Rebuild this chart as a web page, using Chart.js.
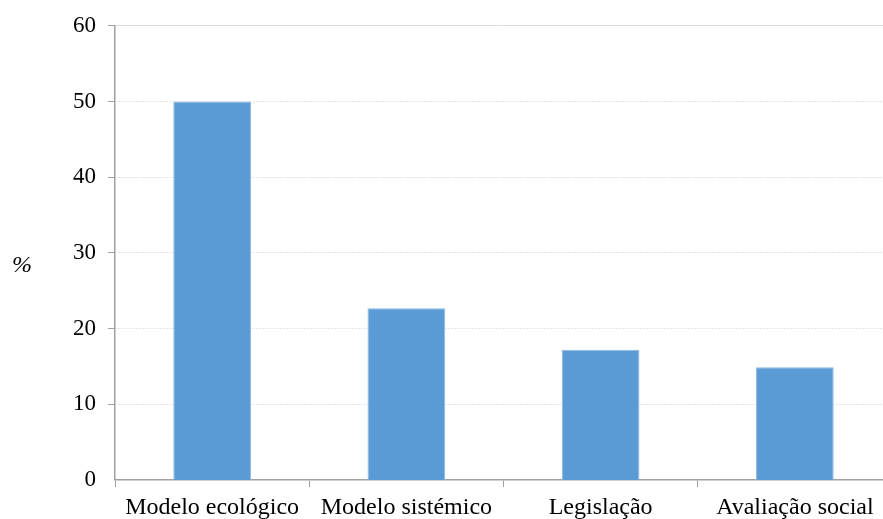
<!DOCTYPE html>
<html>
<head>
<meta charset="utf-8">
<script src="https://cdn.jsdelivr.net/npm/chart.js@4/dist/chart.umd.min.js"></script>
<style>
  html, body { margin: 0; padding: 0; background: #fff; overflow: hidden; }
  #wrap { width: 892px; height: 519px; position: relative; }
</style>
</head>
<body>
<div id="wrap"><canvas id="c"></canvas></div>
<script>
// Categories and their shares (%)
const categories = ['Modelo ecológico', 'Modelo sistémico', 'Legislação', 'Avaliação social'];
const percentages = [50, 22.7, 17.2, 14.9];
const yTicks = [0, 10, 20, 30, 40, 50, 60];

const serif = '"Liberation Serif", "Times New Roman", serif';

// Draws the italic "%" unit beside the value axis
const unitLabel = {
  id: 'unitLabel',
  afterDraw(chart) {
    const { ctx, chartArea } = chart;
    ctx.save();
    ctx.font = 'italic 24px ' + serif;
    ctx.fillStyle = '#000';
    ctx.textAlign = 'center';
    ctx.textBaseline = 'middle';
    ctx.fillText('%', 22, (chartArea.top + chartArea.bottom) / 2 + 13);
    ctx.restore();
  }
};

new Chart(document.getElementById('c'), {
  type: 'bar',
  data: {
    labels: categories,
    datasets: [{
      data: percentages,
      backgroundColor: '#5B9BD5',
      borderColor: '#8DB9E4',
      borderWidth: 1,
      categoryPercentage: 1,
      barPercentage: 0.4
    }]
  },
  options: {
    responsive: true,
    maintainAspectRatio: false,
    animation: false,
    layout: { padding: { top: 13, right: 0, bottom: 0, left: 0 } },
    plugins: { legend: { display: false }, tooltip: { enabled: false } },
    scales: {
      x: {
        offset: true,
        grid: {
          display: true,
          drawOnChartArea: false,
          drawTicks: true,
          tickLength: 7,
          tickColor: '#a0a0a0',
          offset: true
        },
        border: { color: '#a0a0a0', width: 1.5 },
        ticks: {
          color: '#000',
          font: { family: serif, size: 24 },
          padding: 6,
          maxRotation: 0,
          autoSkip: false
        },
        afterFit(scale) { scale.height = 39; }
      },
      y: {
        min: 0,
        max: 60,
        afterBuildTicks(scale) { scale.ticks = yTicks.map(v => ({ value: v })); },
        grid: {
          color: ctx => ctx.tick && ctx.tick.value === 60 ? '#dcdcdc' : '#c8c8c8',
          lineWidth: ctx => ctx.tick && ctx.tick.value === 0 ? 0 : 1,
          tickLength: 7,
          tickColor: '#a0a0a0'
        },
        border: {
          color: '#a0a0a0',
          width: 1.5,
          dash: ctx => ctx.tick && ctx.tick.value === 60 ? [] : [1, 2]
        },
        ticks: {
          color: '#000',
          font: { family: serif, size: 23 },
          padding: 12
        },
        afterFit(scale) { scale.width = 115; }
      }
    }
  },
  plugins: [unitLabel]
});
</script>
</body>
</html>
